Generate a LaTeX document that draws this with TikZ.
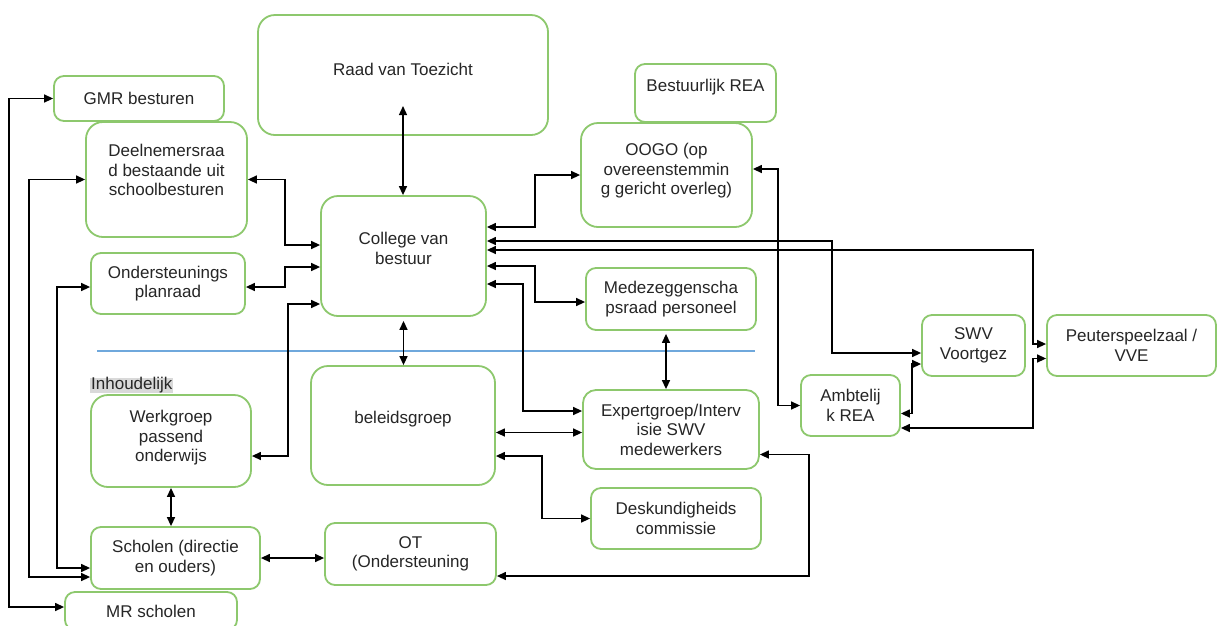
\documentclass[tikz,border=0pt]{standalone}
\usepackage{fontspec}
\setmainfont{Liberation Sans}
\usetikzlibrary{arrows.meta}
\definecolor{rim}{HTML}{8DC86D}
\definecolor{ink}{HTML}{262626}
\definecolor{divider}{HTML}{6FA8DC}
\definecolor{tag}{HTML}{D9D9D9}
\newcommand{\lift}[2]{\raisebox{#1}[0pt][0pt]{\begin{tabular}{@{}c@{}}#2\end{tabular}}}
\tikzset{
  box/.style={draw=rim, line width=1.8pt, rounded corners=10pt, fill=white, text=ink, align=center, inner sep=0pt},
  bigbox/.style={box, rounded corners=17pt},
  link/.style={line width=1.4pt, {Triangle[length=9pt,width=8pt]}-{Triangle[length=9pt,width=8pt]}},
}

\begin{document}
\begin{tikzpicture}[x=1pt, y=-1pt, font=\fontsize{17}{19.5}\selectfont]
\clip (0,0) rectangle (1217,625);
\fill[white] (0,0) rectangle (1217,625);
\draw[divider, line width=1.1pt] (97,351) -- (755,351);

\node[box, minimum width=170pt, minimum height=45pt] (gmr) at (139,98.5) {GMR besturen};
\node[bigbox, minimum width=161pt, minimum height=115pt] (dnr) at (166.5,179.5) {\lift{2.75pt}{Deelnemersraa\\d bestaande uit\\schoolbesturen}};
\node[bigbox, minimum width=290pt, minimum height=120pt] (rvt) at (403,75) {\lift{-0.75pt}{Raad van Toezicht}};
\node[box, minimum width=141pt, minimum height=58pt] (brea) at (705.5,93) {\lift{1.25pt}{Bestuurlijk REA}};
\node[bigbox, minimum width=171pt, minimum height=104pt] (oogo) at (666.5,175) {\lift{-0.75pt}{OOGO (op\\overeenstemmin\\g gericht overleg)}};
\node[bigbox, minimum width=165pt, minimum height=120pt] (cvb) at (403.5,256) {\lift{1.25pt}{College van\\bestuur}};
\node[box, minimum width=154pt, minimum height=61pt] (opr) at (168,283.5) {Ondersteunings\\planraad};
\node[box, minimum width=170pt, minimum height=62pt] (mzr) at (671,299) {Medezeggenscha\\psraad personeel};
\node[fill=tag, text=ink, inner xsep=1pt, inner ysep=0pt, anchor=west] (inh) at (90,385.5) {Inhoudelijk};
\node[bigbox, minimum width=160pt, minimum height=92pt] (wpo) at (171,441) {\lift{-1.75pt}{Werkgroep\\passend\\onderwijs}};
\node[bigbox, minimum width=184pt, minimum height=119pt] (blg) at (403,425.5) {\lift{1.75pt}{beleidsgroep}};
\node[box, rounded corners=13pt, minimum width=176pt, minimum height=79pt] (exp) at (671,429.5) {Expertgroep/Interv\\isie SWV\\medewerkers};
\node[box, minimum width=103pt, minimum height=61pt] (swv) at (973.5,345.5) {SWV\\Voortgez};
\node[box, minimum width=169pt, minimum height=61pt] (pvve) at (1131.5,345.5) {Peuterspeelzaal /\\VVE};
\node[box, minimum width=99pt, minimum height=61pt] (area) at (850.5,405.5) {Ambtelij\\k REA};
\node[box, minimum width=170pt, minimum height=61pt] (dsk) at (676,518.5) {Deskundigheids\\commissie};
\node[box, minimum width=169pt, minimum height=62pt] (sch) at (175.5,558) {Scholen (directie\\en ouders)};
\node[box, minimum width=171pt, minimum height=62pt] (ot) at (410.5,554) {OT\\(Ondersteuning};
\node[box, minimum width=172pt, minimum height=38pt] (mrs) at (151,611) {MR scholen};

\draw[link] (gmr.west) -- ++(-44,0) |- ([yshift=4pt]mrs.west);
\draw[link] (dnr.west) -- ++(-56,0) |- ([yshift=-19pt]sch.west);
\draw[link] ([yshift=-3.5pt]opr.west) -- ++(-33,0) |- ([yshift=-10pt]sch.west);
\draw[link] (dnr.east) -- ++(37,0) |- ([yshift=11pt]cvb.west);
\draw[link] ([yshift=-3.5pt]opr.east) -- ++(39,0) |- ([yshift=-11pt]cvb.west);
\draw[link] ([yshift=-15pt]wpo.east) -- ++(36,0) |- ([yshift=-48pt]cvb.west);
\draw[link] ([yshift=-31pt]rvt.center) -- (rvt.center |- cvb.north);
\draw[link] ([yshift=-4pt]cvb.south) -- (cvb.south |- blg.north);
\draw[link] ([yshift=29pt]cvb.east) -- ++(48,0) |- (oogo.west);
\draw[link] ([yshift=15pt]cvb.east) -- ++(345,0) |- ([yshift=-7.5pt]swv.west);
\draw[link] ([yshift=6pt]cvb.east) -- ++(546,0) |- ([yshift=1.5pt]pvve.west);
\draw[link] ([yshift=-10pt]cvb.east) -- ++(48,0) |- ([yshift=-3pt]mzr.west);
\draw[link] ([yshift=-28pt]cvb.east) -- ++(36,0) |- ([yshift=18.5pt]exp.west);
\draw[link] ([yshift=6pt]oogo.east) -- ++(25,0) |- (area.west);
\draw[link] ([yshift=-22.5pt]area.east) -- ++(132,0) |- ([yshift=-13pt]pvve.west);
\draw[link] ([yshift=-8pt]area.east) -- ++(11,0) |- ([yshift=-18.5pt]swv.west);
\draw[link, shorten <=3pt] ([xshift=-5pt]mzr.south) -- ([xshift=-5pt]exp.north);
\draw[link] ([yshift=-7pt]blg.east) -- ([yshift=-7pt]blg.east -| exp.west);
\draw[link] ([yshift=-30.5pt]blg.east) -- ++(46,0) |- (dsk.west);
\draw[link] ([yshift=-25pt]exp.east) -- ++(49,0) |- ([yshift=-22pt]ot.east);
\draw[link] (wpo.south) -- (wpo.south |- sch.north);
\draw[link] (sch.east) -- (sch.east -| ot.west);
\end{tikzpicture}
\end{document}
